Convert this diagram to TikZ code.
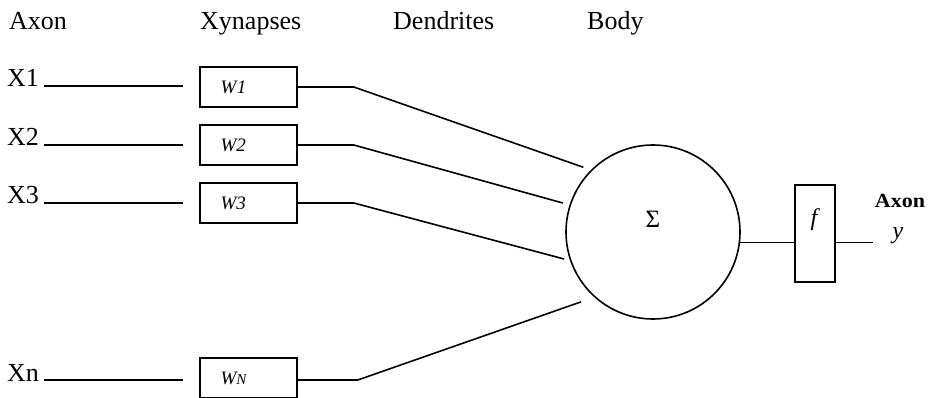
\documentclass[tikz,border=0pt]{standalone}
\usepackage{fontspec}
\setmainfont{Liberation Serif}
\usetikzlibrary{calc}

\tikzset{
  ink/.style={line width=1.6pt, black},
  head/.style={anchor=base west, inner sep=0pt, font=\fontsize{26}{30}\selectfont},
  inlabel/.style={anchor=base west, inner sep=0pt, font=\fontsize{26}{30}\selectfont},
  wbox/.style={draw, ink, minimum width=97pt, minimum height=40pt, inner sep=0pt,
               font=\fontsize{19}{22}\selectfont\itshape, text width=56pt, align=left},
  body/.style={draw, ink, circle, minimum size=174pt, inner sep=0pt},
  fbox/.style={draw, ink, minimum width=40pt, minimum height=97pt, inner sep=0pt},
  wire/.style={ink},
}

\begin{document}
\begin{tikzpicture}[x=1pt, y=-1pt]
  \useasboundingbox (0,0) rectangle (931,398);

  % column headings
  \node[head] (hAxon) at (9,30) {Axon};
  \node[head] (hSyn)  at (200,30) {Xynapses};
  \node[head] (hDen)  at (393,30) {Dendrites};
  \node[head] (hBody) at (587,30) {Body};

  % inputs
  \node[inlabel] (x1) at (7,87)  {X1};
  \node[inlabel] (x2) at (7,146) {X2};
  \node[inlabel] (x3) at (7,204) {X3};
  \node[inlabel] (xn) at (7,381) {Xn};

  \coordinate (a1) at (183,86);
  \coordinate (a2) at (183,145);
  \coordinate (a3) at (183,203);
  \coordinate (an) at (183,380);

  \draw[wire] (x1.base east) ++(5,-1) -- (a1);
  \draw[wire] (x2.base east) ++(5,-1) -- (a2);
  \draw[wire] (x3.base east) ++(5,-1) -- (a3);
  \draw[wire] (xn.base east) ++(5,-1) -- (an);

  % synapse weights
  \node[wbox] (w1) at (248.5,87)  {W\kern0.5pt 1};
  \node[wbox] (w2) at (248.5,145) {W2};
  \node[wbox] (w3) at (248.5,203) {W3};
  \node[wbox] (wn) at (248.5,378) {W{\fontsize{15}{18}\selectfont N}};

  % cell body
  \node[body] (body) at (653,232) {};
  \node[inner sep=0pt, font=\fontsize{25}{30}\selectfont] (sigma) at (653,219) {Σ};

  % dendrites
  \draw[wire, shorten >=8pt]  (w1.east) -- ++(56,0) -- (body.135);
  \draw[wire, shorten >=7pt]  (w2.east) -- ++(56,0) -- (body.162);
  \draw[wire, shorten >=6pt]  (w3.east) -- ++(56,0) -- (body.199);
  \draw[wire, shorten >=14pt] (wn.east) ++(0,2) -- ++(60,0) -- (body.228);

  % activation and output
  \node[fbox] (f) at (815,233.5) {};
  \node[inner sep=0pt, font=\fontsize{24}{28}\selectfont\itshape] (flab) at (814,220) {f};
  \coordinate (bout) at (body.-7);
  \draw[wire] (bout) -- (bout -| f.west);
  \draw[wire] (bout -| f.east) -- ++(37,0) coordinate (yend);
  \node[inner sep=0pt, font=\fontsize{24}{28}\selectfont\itshape] (ylab) at (898,236) {y};
  \node[inner sep=0pt, font=\fontsize{20}{23}\selectfont\bfseries] (oAxon) at (900,201)
    {\scalebox{1.1}[1]{Axon}};
\end{tikzpicture}
\end{document}
